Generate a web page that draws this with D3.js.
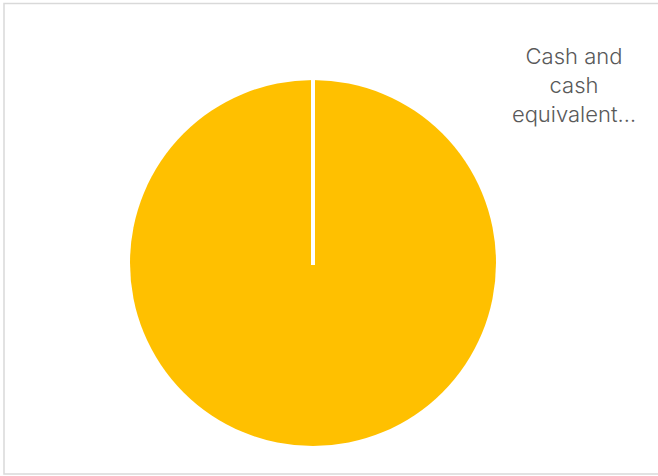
<!DOCTYPE html>
<html>
<head>
<meta charset="utf-8">
<script src="https://cdn.jsdelivr.net/npm/d3@7"></script>
<style>
  body { margin: 0; background: #fff; }
  svg { display: block; }
</style>
</head>
<body>
<div id="chart"></div>
<script>
// chart data
const categories = ['Cash and cash equivalents'];
const values = [100];
const labelLines = ['Cash and', 'cash', 'equivalent…'];
const colors = ['#FFC000'];

const width = 658;
const height = 476;

const svg = d3.select('#chart')
  .append('svg')
  .attr('width', width)
  .attr('height', height);

// chart border
svg.append('rect')
  .attr('x', 4)
  .attr('y', 3.5)
  .attr('width', width + 10)
  .attr('height', 470.5)
  .attr('fill', 'none')
  .attr('stroke', '#d9d9d9')
  .attr('stroke-width', 1.5);

const cx = 313, cy = 263, radius = 183;

const pie = d3.pie().sort(null).value((d) => d);
const arc = d3.arc().innerRadius(0).outerRadius(radius);
const arcs = pie(values);

const g = svg.append('g').attr('transform', `translate(${cx}, ${cy})`);

g.selectAll('.slice')
  .data(arcs)
  .enter()
  .append('path')
  .attr('class', 'slice')
  .attr('d', arc)
  .attr('fill', (d, i) => colors[i]);

// slice edges (white separators)
g.selectAll('.edge')
  .data(arcs)
  .enter()
  .append('line')
  .attr('class', 'edge')
  .attr('x1', 0)
  .attr('y1', 2)
  .attr('x2', (d) => d3.pointRadial(d.startAngle, radius + 2)[0])
  .attr('y2', (d) => d3.pointRadial(d.startAngle, radius + 2)[1])
  .attr('stroke', '#fff')
  .attr('stroke-width', 4);

// label
const label = svg.append('text')
  .attr('x', 574)
  .attr('y', 64)
  .attr('text-anchor', 'middle')
  .attr('fill', '#595959')
  .style('font-family', 'Inter, "Open Sans", sans-serif')
  .style('font-weight', 300)
  .style('font-size', '22px');

label.selectAll('tspan')
  .data(labelLines)
  .enter()
  .append('tspan')
  .attr('x', 574)
  .attr('dy', (d, i) => (i === 0 ? 0 : 29))
  .text((d) => d);
</script>
</body>
</html>
